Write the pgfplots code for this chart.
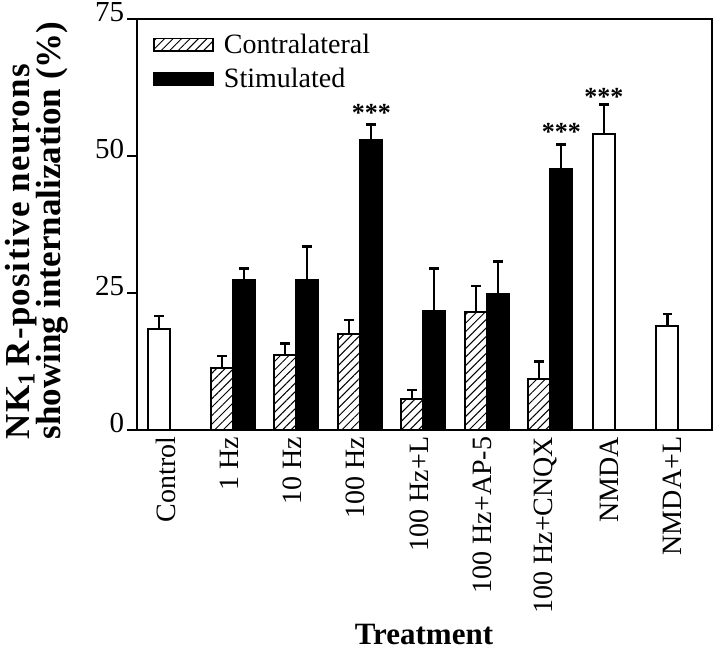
\documentclass[border=0pt]{standalone}
\usepackage{fontspec}
\setmainfont{Liberation Serif}
\usepackage{pgfplots}
\pgfplotsset{compat=1.18}
\usetikzlibrary{patterns.meta,calc}
\pgfplotsset{boxlegend/.style={legend image code/.code={\draw[##1, line width=0.8pt] (0pt,-3.1pt) rectangle (29.5pt,3.1pt);}}}

\begin{document}
\begin{tikzpicture}
\begin{axis}[
  name=ax,
  scale only axis,
  width=287.5pt, height=205.5pt,
  xmin=137, xmax=712, ymin=0, ymax=75,
  ybar, bar width=11pt, bar shift=0pt,
  axis line style={line width=1.2pt},
  ytick={0,25,50,75},
  ytick pos=left,
  tick align=outside,
  major tick length=5pt,
  y tick style={line width=1pt, black},
  yticklabel style={font=\fontsize{14.5}{16}\selectfont, inner sep=1.2pt, yshift=3.5pt},
  /pgf/number format/assume math mode=true,
  xtick={165.8,229.1,292.4,355.7,419.0,482.3,545.6,608.9,672.2},
  xticklabels={Control,1 Hz,10 Hz,100 Hz,100 Hz+L,100 Hz+AP-5,100 Hz+CNQX,NMDA,NMDA+L},
  x tick style={draw=none},
  xticklabel shift=-2.8pt,
  xticklabel style={rotate=90, anchor=east, inner sep=1pt, font=\fontsize{14}{16}\selectfont},
  xlabel={Treatment},
  xlabel style={font=\fontsize{15.5}{18}\selectfont\bfseries, at={(axis description cs:0.499,-0.523)}, anchor=base},
  ylabel={{\addfontfeatures{LetterSpace=4}NK\textsubscript{1}\,R-positive neurons}\\[-1.5pt]showing internalization (\%)},
  ylabel style={font=\fontsize{17.5}{15.5}\selectfont\bfseries, align=left, inner sep=0pt, at={(axis description cs:-0.1748,-0.0243)}, anchor=west},
  legend style={draw=none, fill=none, at={(axis description cs:0,1)}, anchor=north west, xshift=8pt, yshift=-5.6pt, inner sep=0pt, row sep=2.8pt, column sep=3.5pt, font=\fontsize{14}{16}\selectfont, nodes={inner sep=1.5pt}},
  legend cell align=left,
  error bars/y dir=plus,
  error bars/y explicit,
  error bars/error bar style={line width=1.3pt, black},
  error bars/error mark options={rotate=90, mark size=2.3pt, line width=1.3pt, black},
]
% Contralateral (hatched)
\addplot[draw=black, line width=1pt, pattern={Lines[angle=45,distance=3pt,line width=0.5pt]}, boxlegend]
  coordinates {(222,11.3) +- (0,2.2) (285,13.7) +- (0,2.1) (349,17.6) +- (0,2.5)
               (412,5.7) +- (0,1.6) (476,21.5) +- (0,4.8) (539,9.3) +- (0,3.2)};
\addlegendentry{Contralateral}
% Stimulated (black)
\addplot[draw=black, fill=black, line width=1pt, boxlegend]
  coordinates {(244,27.3) +- (0,2.2) (307,27.3) +- (0,6.15) (371,52.9) +- (0,2.9)
               (434,21.8) +- (0,7.7) (498,24.8) +- (0,6.0) (561,47.6) +- (0,4.5)};
\addlegendentry{Stimulated}
% Single treatments (white)
\addplot[draw=black, fill=white, line width=1pt, forget plot]
  coordinates {(159,18.4) +- (0,2.4) (604,54.1) +- (0,5.3) (667.5,19.0) +- (0,2.2)};
\node[font=\fontsize{13}{15}\selectfont\bfseries, anchor=base] at (axis cs:371.5,56.3) {***};
\node[font=\fontsize{13}{15}\selectfont\bfseries, anchor=base] at (axis cs:561.5,52.9) {***};
\node[font=\fontsize{13}{15}\selectfont\bfseries, anchor=base] at (axis cs:604,59.3) {***};
\end{axis}
\pgfresetboundingbox
\path ($(ax.south west)+(-68.5pt,-111.5pt)$) rectangle ($(ax.north east)+(4pt,9.5pt)$);
\end{tikzpicture}
\end{document}
